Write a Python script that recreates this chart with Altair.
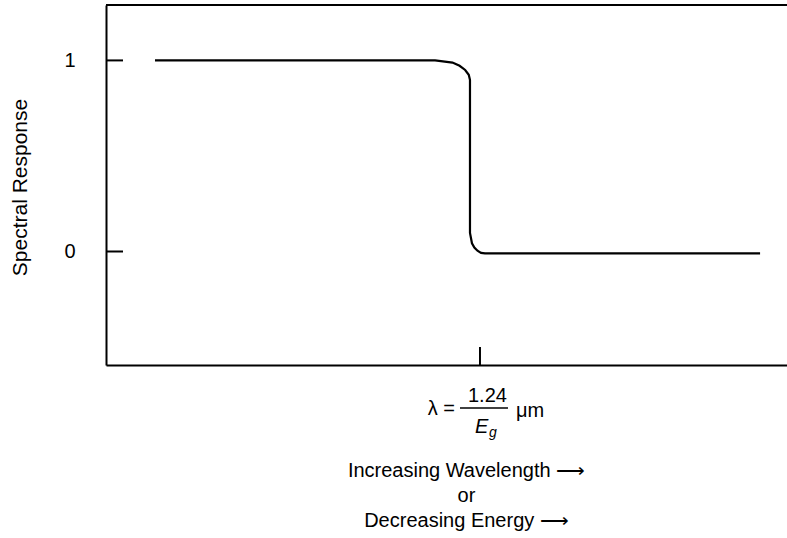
import altair as alt
import pandas as pd

# Spectral response of an ideal photodetector vs. normalized wavelength (lambda / lambda_g)
wavelength = [0.131, 0.880, 0.9265, 0.9455, 0.9604, 0.970, 0.9733,
              0.9733, 0.9786, 0.9850, 0.9933, 1.0029, 1.0134, 1.749]
response = [1.0, 1.0, 0.9885, 0.9717, 0.950, 0.925, 0.898,
            0.097, 0.043, 0.021, 0.004, -0.007, -0.010, -0.010]

y_ticks = [0, 1]
cutoff = [1.0]

X_DOMAIN = [0.0, 1.821]
Y_DOMAIN = [-0.594, 1.29]
W, H = 681, 360
FONT = "Liberation Sans"
INK = "#000000"
ARROW = "\u27f6"

curve = pd.DataFrame({"wavelength": wavelength, "response": response,
                      "idx": list(range(len(wavelength)))})
ytick_df = pd.DataFrame({"response": y_ticks})
xtick_df = pd.DataFrame({"wavelength": cutoff})

x_scale = alt.Scale(domain=X_DOMAIN, nice=False, zero=False)
y_scale = alt.Scale(domain=Y_DOMAIN, nice=False, zero=False)

line = alt.Chart(curve).mark_line(color=INK, strokeWidth=2.2, interpolate="linear").encode(
    x=alt.X("wavelength:Q", scale=x_scale,
            axis=alt.Axis(ticks=False, labels=False, grid=False, domain=True,
                          domainColor=INK, domainWidth=2,
                          title=[f"Increasing Wavelength {ARROW}", "or",
                                 f"Decreasing Energy {ARROW}"],
                          titleFont=FONT, titleFontSize=20, titleFontWeight="normal",
                          titleColor=INK, titleLineHeight=25,
                          titleX=360, titleY=111, titleAlign="center",
                          titleBaseline="alphabetic")),
    y=alt.Y("response:Q", scale=y_scale,
            axis=alt.Axis(values=y_ticks, format="d", ticks=False, tickSize=0, grid=False,
                          domain=True, domainColor=INK, domainWidth=2,
                          labelFont=FONT, labelFontSize=20, labelColor=INK,
                          labelPadding=31, labelBaseline="middle",
                          title="Spectral Response", titleFont=FONT, titleFontSize=21,
                          titleFontWeight="normal", titleColor=INK,
                          titleX=-86, titleY=182, titleAngle=-90,
                          titleAlign="center", titleBaseline="middle")),
    order=alt.Order("idx:Q"),
)

# inward tick marks on the left axis
yticks = alt.Chart(ytick_df).mark_rule(color=INK, strokeWidth=2).encode(
    y=alt.Y("response:Q", scale=y_scale),
    x=alt.value(0),
    x2=alt.value(17),
)

# inward tick mark at the cutoff wavelength
xtick = alt.Chart(xtick_df).mark_rule(color=INK, strokeWidth=2).encode(
    x=alt.X("wavelength:Q", scale=x_scale),
    y=alt.value(H),
    y2=alt.value(H - 18),
)

# top frame line
top = alt.Chart(xtick_df).mark_rule(color=INK, strokeWidth=2).encode(
    x=alt.value(0), x2=alt.value(W), y=alt.value(0)
)

# cutoff formula: lambda = 1.24 / E_g  um
def label(text, xv, ypx, align="left", size=20, style="normal"):
    return alt.Chart(xtick_df).mark_text(
        align=align, baseline="alphabetic", font=FONT, fontSize=size,
        fontStyle=style, color=INK
    ).encode(x=alt.datum(xv), y=alt.value(ypx), text=alt.value(text))

lam = label("\u03bb =", 0.933, 410, align="right")
num = label("1.24", 1.020, 397, align="center")
den = label("E", 0.9866, 428, style="italic")
sub = label("g", 1.0241, 432, size=14, style="italic")
unit = label("\u03bcm", 1.0963, 412)
bar = alt.Chart(xtick_df).mark_rule(color=INK, strokeWidth=1.5).encode(
    x=alt.datum(0.9465), x2=alt.datum(1.0749), y=alt.value(403)
)

chart = alt.layer(line, yticks, xtick, top, lam, num, bar, den, sub, unit).properties(
    width=W, height=H,
    autosize=alt.AutoSizeParams(type="none"),
    padding={"left": 106, "top": 5, "right": 0, "bottom": 173},
).configure_view(stroke=None).configure(background="white")

chart.save("out.html", embed_options={"renderer": "svg", "actions": False})
